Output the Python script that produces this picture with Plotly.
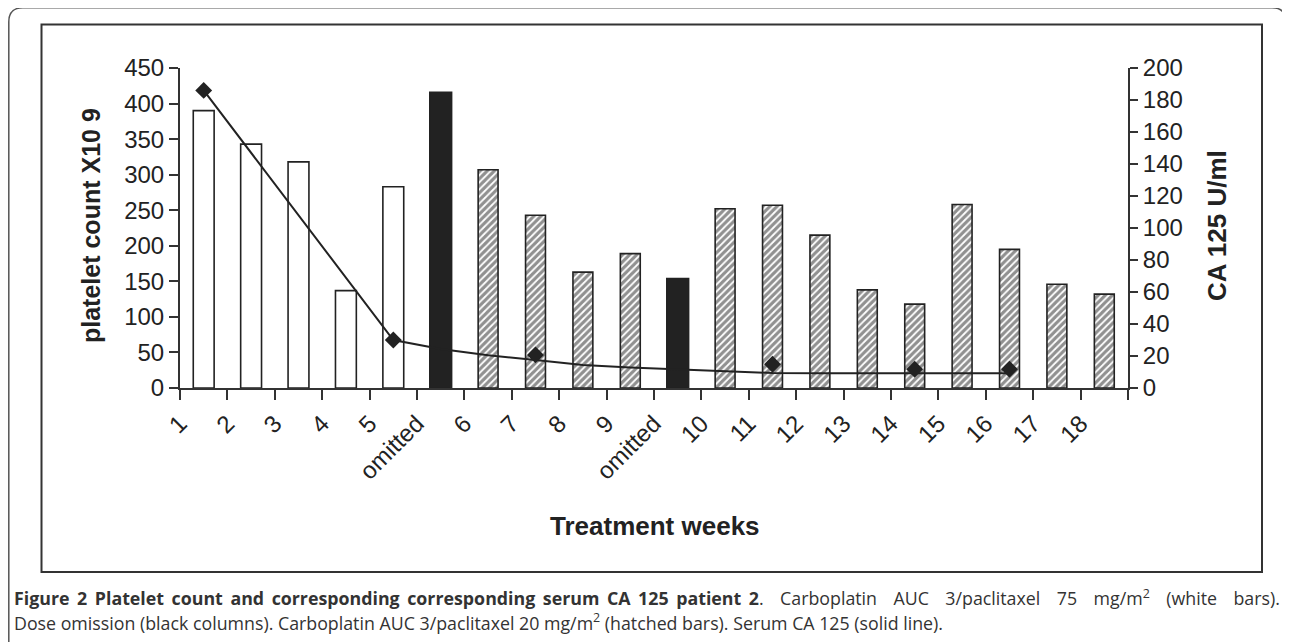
import plotly.graph_objects as go

# ---------------- data ----------------
categories = ["1", "2", "3", "4", "5", "omitted", "6", "7", "8", "9", "omitted",
              "10", "11", "12", "13", "14", "15", "16", "17", "18"]
# platelet count (left axis)
white_bars = [390, 343, 318, 137, 283, None, None, None, None, None, None,
              None, None, None, None, None, None, None, None, None]
black_bars = [None, None, None, None, None, 416, None, None, None, None, 154,
              None, None, None, None, None, None, None, None, None]
hatched_bars = [None, None, None, None, None, None, 307, 243, 163, 189, None,
                252, 257, 215, 138, 118, 258, 195, 146, 132]
# serum CA 125 (right axis): solid line and measured points (diamonds)
ca125_line = [186, None, None, None, 30, 24.4, 20.4, 17.5, 14.4, 12.8, 11.6,
              10.6, 9.4, 9.2, 9.2, 9.2, 9.2, 9.2, None, None]
ca125_points = [186, None, None, None, 30, None, None, 20.7, None, None, None,
                None, 14.8, None, None, 11.7, None, 11.7, None, None]
left_ticks = [0, 50, 100, 150, 200, 250, 300, 350, 400, 450]
right_ticks = [0, 20, 40, 60, 80, 100, 120, 140, 160, 180, 200]

caption_bold = "Figure 2 Platelet count and corresponding corresponding serum CA 125 patient 2"
caption_rest1 = "Carboplatin AUC 3/paclitaxel 75 mg/m<sup>2</sup> (white bars)."
caption_line2 = ("Dose omission (black columns). Carboplatin AUC 3/paclitaxel 20 mg/m<sup>2</sup> "
                 "(hatched bars). Serum CA 125 (solid line).")

# ---------------- geometry (reference pixel coords, page body margin = 8) ----------------
OFF = 8
W, H = 1290 - OFF, 642 - OFF
L, R, T, B = 180 - OFF, 1128 - OFF, 68 - OFF, 388 - OFF
PW, PH = R - L, B - T


def px(x):
    return (x - OFF - L) / PW


def py(y):
    return (B - (y - OFF)) / PH


xs = list(range(len(categories)))
ink = "#222222"
font_fam = "Liberation Sans, Arial, sans-serif"
cap_fam = "Open Sans"

fig = go.Figure()
fig.add_trace(go.Bar(x=xs, y=white_bars, width=0.44, marker=dict(color="white", line=dict(color=ink, width=1.6))))
fig.add_trace(go.Bar(x=xs, y=black_bars, width=0.46, marker=dict(color=ink, line=dict(color=ink, width=1.6))))
fig.add_trace(go.Bar(x=xs, y=hatched_bars, width=0.42,
                     marker=dict(color="white", line=dict(color=ink, width=1.6),
                                 pattern=dict(shape="/", fgcolor=ink, bgcolor="white", size=5, solidity=0.65))))
fig.add_trace(go.Scatter(x=xs, y=ca125_line, yaxis="y2", mode="lines", connectgaps=True,
                         line=dict(color=ink, width=2)))
fig.add_trace(go.Scatter(x=xs, y=ca125_points, yaxis="y2", mode="markers",
                         marker=dict(symbol="diamond", size=13, color=ink)))

tickpos = [i - 0.5 for i in range(len(categories) + 1)]
ticktext = categories + [""]

axis_common = dict(showgrid=False, zeroline=False, linecolor="#333", tickcolor="#333")

fig.update_layout(
    width=W, height=H,
    margin=dict(l=L, r=W - R, t=T, b=H - B, pad=0),
    paper_bgcolor="white", plot_bgcolor="white",
    showlegend=False, barmode="overlay",
    font=dict(family=font_fam, color=ink),
    xaxis=dict(range=[-0.5, len(categories) - 0.5], tickmode="array", tickvals=tickpos, ticktext=ticktext,
               tickangle=-45, ticks="outside", ticklen=10, tickwidth=2, showline=True, linewidth=2,
               tickfont=dict(size=24, family=font_fam, color=ink), **axis_common),
    xaxis2=dict(range=[-0.5, len(categories) - 0.5], tickmode="array", tickvals=tickpos, overlaying="x",
                anchor="y", ticks="inside", ticklen=5, tickwidth=2, showticklabels=False, showline=False,
                **axis_common),
    yaxis=dict(range=[0, 450], tickmode="array", tickvals=left_ticks, ticks="outside", ticklen=9, tickwidth=2,
               showline=True, linewidth=2, tickfont=dict(size=24, family=font_fam, color=ink), **axis_common),
    yaxis2=dict(range=[0, 200], tickmode="array", tickvals=right_ticks, overlaying="y", side="right",
                anchor="x", ticks="outside", ticklen=8, tickwidth=2, showline=True, linewidth=2,
                tickfont=dict(size=24, family=font_fam, color=ink), **axis_common),
    yaxis3=dict(range=[0, 450], tickmode="array", tickvals=left_ticks, overlaying="y", side="left",
                anchor="x", ticks="inside", ticklen=7, tickwidth=2, showticklabels=False, showline=False,
                **axis_common),
    yaxis4=dict(range=[0, 200], tickmode="array", tickvals=right_ticks, overlaying="y", side="right",
                anchor="x", ticks="inside", ticklen=8, tickwidth=2, showticklabels=False, showline=False,
                **axis_common),
)

# justified first caption line: widen the word gaps
bold_j = caption_bold.replace(" ", " &#8201;")
rest_j = caption_rest1.replace(" ", " &#8194;&#8201;")
CAP = "font-size:17.8px"
caption_html = (f"<span style='{CAP}'><b>{bold_j}</b>. &#8194;&#8201;{rest_j}</span><br>"
                f"<span style='{CAP}'>{caption_line2}</span>")

annotations = [
    dict(text="<b>platelet count X10 9</b>", x=px(91), y=py(226), textangle=-90, font=dict(size=25)),
    dict(text="<b>CA 125 U/ml</b>", x=px(1217), y=py(226), textangle=-90, font=dict(size=26)),
    dict(text="<b>Treatment weeks</b>", x=px(655), y=py(526), font=dict(size=26)),
    dict(text=caption_html, x=px(12), y=py(609.5), xanchor="left", align="left",
         font=dict(size=18.6, family=cap_fam, color="#333")),
]
for a in annotations:
    a.setdefault("xanchor", "center")
    a.update(xref="paper", yref="paper", showarrow=False, yanchor="middle")
    a["font"].setdefault("family", font_fam)
    a["font"].setdefault("color", ink)
fig.update_layout(annotations=annotations)


# frames
def P(x, y):
    return f"{px(x)},{py(y)}"


r = 14
xl, yt, xr = 8.8, 7.8, 1286
outer = (f"M {P(xl, 642)} L {P(xl, yt + r)} Q {P(xl, yt)} {P(xl + r, yt)} L {P(xr - r, yt)} "
         f"Q {P(xr, yt)} {P(xr, yt + r)} L {P(xr, 642)}")
fig.add_shape(type="path", path=outer, xref="paper", yref="paper", line=dict(color="#555", width=1.5))
fig.add_shape(type="rect", xref="paper", yref="paper", x0=px(41.5), y0=py(24.5), x1=px(1262), y1=py(572),
              line=dict(color="#333", width=2))

fig.write_html("out.html")
